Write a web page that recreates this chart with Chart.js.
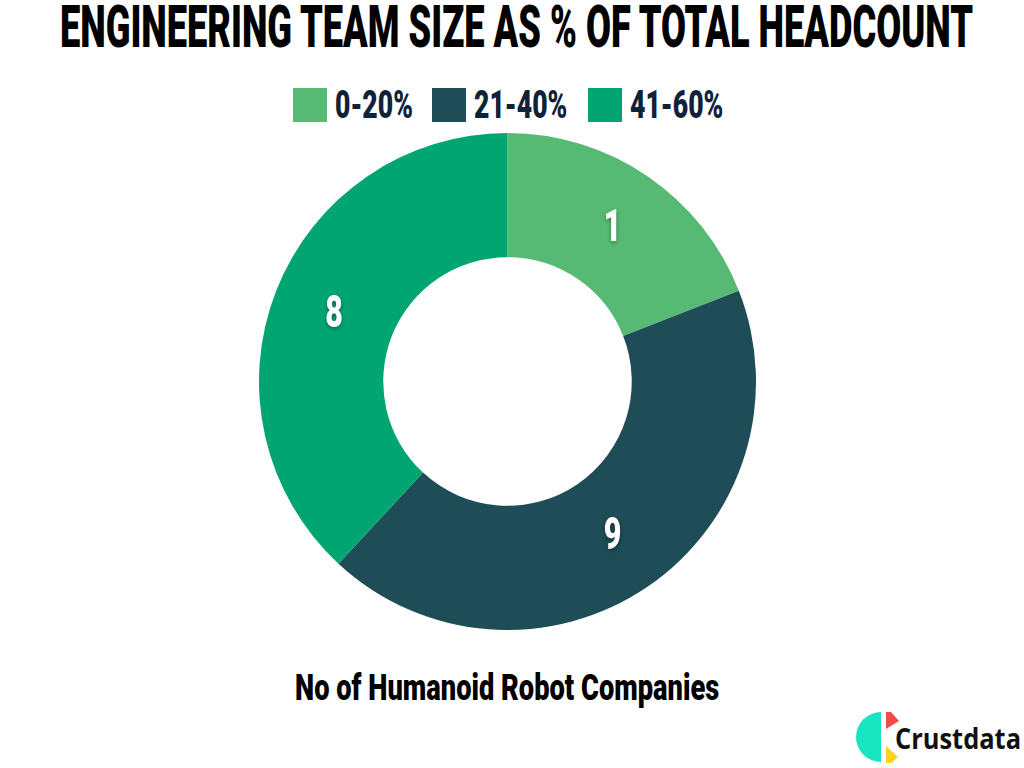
<!DOCTYPE html>
<html>
<head>
<meta charset="utf-8">
<script src="https://cdn.jsdelivr.net/npm/chart.js@4.4.1/dist/chart.umd.min.js"></script>
<style>
  html, body { margin: 0; padding: 0; background: #fff; }
  body { width: 1024px; height: 768px; position: relative; overflow: hidden; font-family: "Roboto", sans-serif; }
  .cond { display: inline-block; white-space: nowrap; font-weight: 900; vertical-align: top; }
  .cond > span { display: inline-block; transform-origin: 0 0; }
  #title { position: absolute; top: -3px; left: 4px; width: 1024px; text-align: center; font-size: 59px; line-height: 59px; color: #000; }
  #legend { position: absolute; top: 88px; left: -4px; width: 1024px; display: flex; justify-content: center; gap: 20px; }
  .item { display: flex; align-items: center; }
  .swatch { width: 34px; height: 34px; margin-right: 8px; }
  .item .cond { font-size: 39px; line-height: 34px; color: #0f2237; }
  #chartBox { position: absolute; left: 259px; top: 133px; width: 497px; height: 497px; }
  #axisNote { position: absolute; top: 669px; left: 0; width: 1014px; text-align: center; font-size: 37px; line-height: 37px; color: #000; }
  #logo { position: absolute; left: 850px; top: 705px; }
</style>
</head>
<body>
<div id="title"><span class="cond"><span>ENGINEERING TEAM SIZE AS % OF TOTAL HEADCOUNT</span></span></div>
<div id="legend"></div>
<div id="chartBox"><canvas id="chart-eng-share"></canvas></div>
<div id="axisNote"><span class="cond"><span>No of Humanoid Robot Companies</span></span></div>
<svg id="logo" width="174" height="62" viewBox="850 705 174 62">
  <path d="M881,712 A25,25 0 0,0 881,762 Z" fill="#19e6c1"/>
  <polygon points="886,712 891,712 899,721 886,729" fill="#f44a4a"/>
  <polygon points="886,746 898,757 891,763 886,763" fill="#ffd21f"/>
  <text x="895" y="749" font-family="Open Sans" font-weight="700" font-size="28" textLength="126" lengthAdjust="spacingAndGlyphs" fill="#111">Crustdata</text>
</svg>

<script>
const categories = ["0-20%", "21-40%", "41-60%"];
// arc sizes (slice angles come out 4 : 9 : 8)
const sliceValues = [4, 9, 8];
// numbers printed on the slices in the original
const shownCounts = ["1", "9", "8"];
const colors = ["#57ba74", "#1e4d57", "#00a572"];

let squeeze = 1;

function condense(wrapper, ratio) {
  const inner = wrapper.firstElementChild;
  const w = inner.offsetWidth;
  inner.style.transform = `scaleX(${ratio})`;
  wrapper.style.width = `${w * ratio}px`;
}

function buildLegend() {
  const legend = document.getElementById("legend");
  categories.forEach((label, i) => {
    const item = document.createElement("div");
    item.className = "item";
    item.innerHTML = `<div class="swatch" style="background:${colors[i]}"></div><span class="cond"><span>${label}</span></span>`;
    legend.appendChild(item);
  });
}

const sliceLabels = {
  id: "sliceLabels",
  afterDatasetsDraw(chart) {
    const { ctx } = chart;
    chart.getDatasetMeta(0).data.forEach((arc, i) => {
      const { x, y } = arc.tooltipPosition();
      ctx.save();
      ctx.translate(x, y);
      ctx.scale(squeeze * 1.1, 1);
      ctx.font = "900 45px Roboto";
      ctx.textAlign = "center";
      ctx.textBaseline = "middle";
      ctx.fillStyle = "#fff";
      ctx.shadowColor = "rgba(0,0,0,0.35)";
      ctx.shadowBlur = 4;
      ctx.shadowOffsetY = 2;
      ctx.fillText(shownCounts[i], 0, 2);
      ctx.restore();
    });
  }
};

function render() {
  const titleWrap = document.querySelector("#title .cond");
  const natural = titleWrap.firstElementChild.offsetWidth;
  squeeze = 913 / natural;
  condense(titleWrap, squeeze);
  buildLegend();
  document.querySelectorAll("#legend .cond").forEach((el) => condense(el, squeeze * 1.11));
  condense(document.querySelector("#axisNote .cond"), squeeze * 1.2);

  new Chart(document.getElementById("chart-eng-share"), {
    type: "doughnut",
    data: {
      labels: categories,
      datasets: [{ data: sliceValues, backgroundColor: colors, borderWidth: 0 }]
    },
    options: {
      responsive: true,
      maintainAspectRatio: false,
      animation: false,
      cutout: "50%",
      layout: { padding: 0 },
      plugins: { legend: { display: false }, tooltip: { enabled: false } }
    },
    plugins: [sliceLabels]
  });
}

document.fonts.ready.then(render);
</script>
</body>
</html>
